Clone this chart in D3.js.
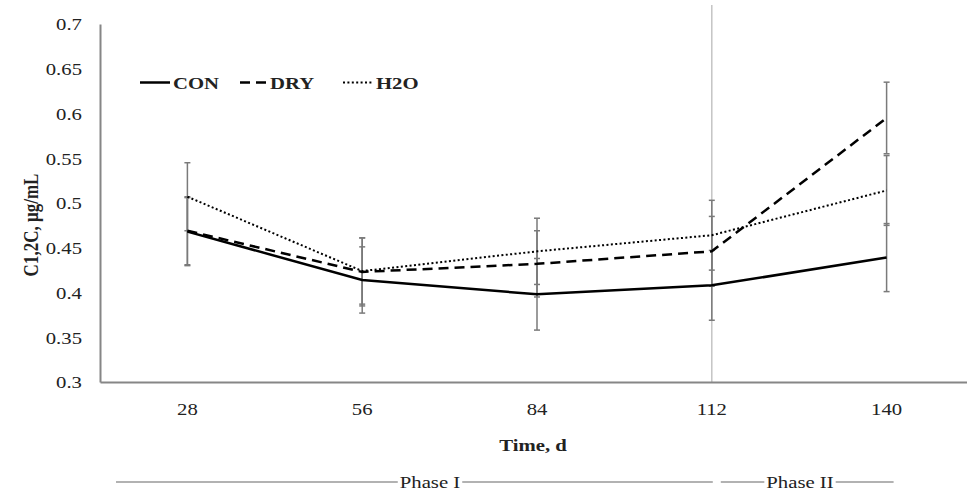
<!DOCTYPE html>
<html>
<head>
<meta charset="utf-8">
<script src="https://cdn.jsdelivr.net/npm/d3@7"></script>
<style>
  body { margin: 0; background: #fff; }
  svg text { font-family: "Liberation Serif", "Times New Roman", serif; fill: #222; }
</style>
</head>
<body>
<script>
const width = 967;
const height = 492;

// sampling days
const days = ["28", "56", "84", "112", "140"];
const yTicks = [0.3, 0.35, 0.4, 0.45, 0.5, 0.55, 0.6, 0.65, 0.7];

// means per treatment
const conMean = [0.468, 0.414, 0.398, 0.408, 0.439];
const dryMean = [0.469, 0.423, 0.432, 0.446, 0.595];
const h2oMean = [0.507, 0.424, 0.446, 0.464, 0.514];

// error bar half widths
const conErr = [0.038, 0.037, 0.040, 0.039, 0.038];
const dryErr = [0.038, 0.038, 0.037, 0.039, 0.040];
const h2oErr = [0.038, 0.037, 0.037, 0.039, 0.039];

const phases = ["Phase I", "Phase II"];

const series = [
  { name: "CON", mean: conMean, err: conErr, dash: null, width: 2.5 },
  { name: "DRY", mean: dryMean, err: dryErr, dash: "10,6", width: 2.5 },
  { name: "H2O", mean: h2oMean, err: h2oErr, dash: "2,2.4", width: 2 }
];

const margin = { left: 100, top: 24, bottom: 382, right: 974 };
const sx = 1.22; // the reference text is drawn a bit wide
const serif = '"Liberation Serif", "Times New Roman", serif';

const svg = d3.select("body").append("svg")
  .attr("width", width)
  .attr("height", height);

const x = d3.scaleBand().domain(days).range([margin.left, margin.right]);
const y = d3.scaleLinear().domain([0.3, 0.7]).range([margin.bottom, margin.top]);
const cx = d => x(d) + x.bandwidth() / 2;

// wide text helper
function wideText(g, tx, ty, str, size, bold, anchor) {
  return g.append("text")
    .attr("transform", `translate(${tx},${ty}) scale(${sx},1)`)
    .attr("text-anchor", anchor || "middle")
    .style("font-family", serif)
    .style("font-size", size + "px")
    .style("font-weight", bold ? "bold" : "normal")
    .text(str);
}

// phase divider at day 112
svg.append("line")
  .attr("x1", cx("112")).attr("x2", cx("112"))
  .attr("y1", 5).attr("y2", margin.bottom)
  .attr("stroke", "#c4c4c4")
  .attr("stroke-width", 1.5);

// y axis
const yAxis = svg.append("g")
  .attr("transform", `translate(${margin.left},0)`)
  .call(d3.axisLeft(y).tickValues(yTicks).tickSize(0).tickFormat(d => String(+d.toFixed(2))));
yAxis.attr("font-family", null);
yAxis.select(".domain").attr("stroke", "#868686").attr("stroke-width", 2);
yAxis.selectAll(".tick text")
  .attr("x", 0).attr("dy", "0.35em")
  .attr("transform", `translate(-18,0) scale(${sx},1)`)
  .style("font-family", serif)
  .style("font-size", "17px")
  .style("fill", "#222");

// x axis
const xAxis = svg.append("g")
  .attr("transform", `translate(0,${margin.bottom})`)
  .call(d3.axisBottom(x).tickSize(0));
xAxis.attr("font-family", null);
xAxis.select(".domain").attr("stroke", "#868686").attr("stroke-width", 2);
xAxis.selectAll(".tick text")
  .attr("y", 0).attr("dy", 0)
  .attr("transform", `translate(0,33) scale(${sx},1)`)
  .style("font-family", serif)
  .style("font-size", "17px")
  .style("fill", "#222");

// error bars
const errG = svg.append("g").attr("stroke", "#7a7a7a").attr("stroke-width", 1.5);
series.forEach(s => {
  days.forEach((d, i) => {
    const lo = y(s.mean[i] - s.err[i]);
    const hi = y(s.mean[i] + s.err[i]);
    errG.append("line").attr("x1", cx(d)).attr("x2", cx(d)).attr("y1", lo).attr("y2", hi);
    errG.append("line").attr("x1", cx(d) - 3).attr("x2", cx(d) + 3).attr("y1", lo).attr("y2", lo);
    errG.append("line").attr("x1", cx(d) - 3).attr("x2", cx(d) + 3).attr("y1", hi).attr("y2", hi);
  });
});

// series lines
const line = d3.line().x(d => cx(d[0])).y(d => y(d[1]));
series.forEach(s => {
  svg.append("path")
    .datum(days.map((d, i) => [d, s.mean[i]]))
    .attr("fill", "none")
    .attr("stroke", "#000")
    .attr("stroke-width", s.width)
    .attr("stroke-dasharray", s.dash)
    .attr("d", line);
});

// legend
const legend = svg.append("g");
const legX = [140, 240, 343];
const legLen = [30, 27, 30];
series.forEach((s, i) => {
  legend.append("line")
    .attr("x1", legX[i]).attr("x2", legX[i] + legLen[i])
    .attr("y1", 82.5).attr("y2", 82.5)
    .attr("stroke", "#000")
    .attr("stroke-width", s.width)
    .attr("stroke-dasharray", s.dash);
  wideText(legend, legX[i] + legLen[i] + 3, 88.5, s.name, 17, true, "start");
});

// axis titles
wideText(svg, 533, 451, "Time, d", 17, true);
svg.append("text")
  .attr("transform", `translate(38,225) rotate(-90) scale(1,${sx})`)
  .attr("text-anchor", "middle")
  .style("font-family", serif)
  .style("font-size", "17px")
  .style("font-weight", "bold")
  .text("C1,2C, µg/mL");

// phase brackets
const phaseY = 482;
const phaseG = svg.append("g");
const spans = [
  { a: x("28") + 16, b: cx("112") + 1, tx: 430 },
  { a: cx("112") + 9, b: cx("140") + 7, tx: 800 }
];
phases.forEach((p, i) => {
  const sp = spans[i];
  const t = wideText(phaseG, sp.tx, phaseY + 6, p, 17, false);
  const w = t.node().getBBox().width * sx / 2 + 2;
  phaseG.append("line").attr("x1", sp.a).attr("x2", sp.tx - w).attr("y1", phaseY).attr("y2", phaseY)
    .attr("stroke", "#999").attr("stroke-width", 1.5);
  phaseG.append("line").attr("x1", sp.tx + w).attr("x2", sp.b).attr("y1", phaseY).attr("y2", phaseY)
    .attr("stroke", "#999").attr("stroke-width", 1.5);
});
</script>
</body>
</html>
